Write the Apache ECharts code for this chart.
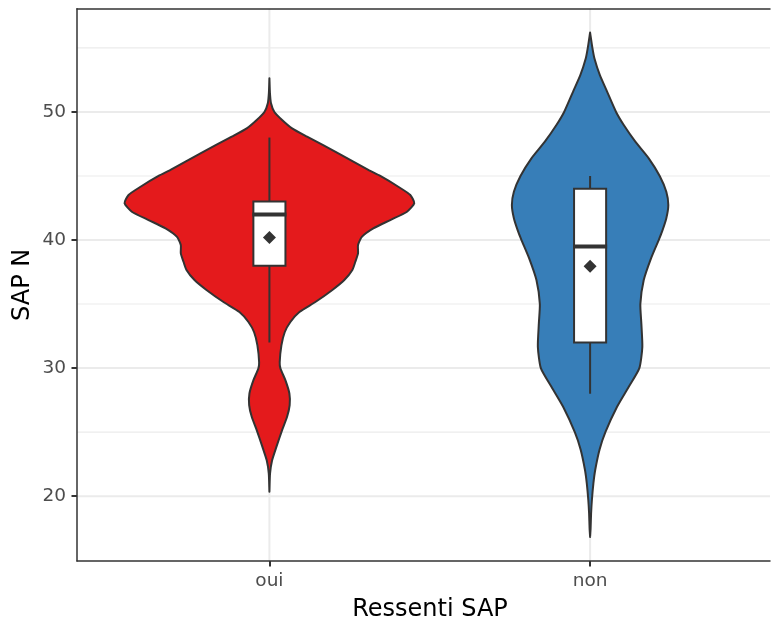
<!DOCTYPE html>
<html><head><meta charset="utf-8">
<script src="https://cdn.jsdelivr.net/npm/echarts@6/dist/echarts.min.js"></script>
<style>html,body{margin:0;padding:0;background:#fff}#c{width:771px;height:619px}</style>
</head><body><div id="c"></div>
<script>
// ---- data ----
const categories = ['oui', 'non'];
const categoryPos = [1, 2];
const violinColors = ['#E41A1C', '#377EB8'];

// violin outlines: y values and half-widths (x-axis units)
const ouiViolinY = [20.34, 21.77, 22.8, 23.85, 25.16, 26.2, 27.11, 28.02, 29.06, 29.98, 30.47, 31.77, 32.8, 33.6, 34.38, 35.16, 36.1, 36.875, 37.66, 38.3, 38.96, 39.61, 40.26, 40.91, 41.56, 42.21, 42.87, 43.52, 44.16, 45.0, 45.47, 46.77, 48.07, 48.72, 49.375, 50.0, 50.68, 51.5, 52.63];
const ouiViolinHalfWidth = [0, 0.002, 0.0084, 0.0218, 0.0396, 0.0551, 0.0632, 0.0623, 0.0498, 0.0343, 0.0321, 0.0374, 0.0477, 0.0654, 0.0935, 0.1433, 0.1963, 0.2336, 0.2586, 0.2679, 0.2763, 0.2763, 0.2888, 0.324, 0.377, 0.429, 0.4517, 0.4393, 0.4019, 0.3458, 0.3084, 0.215, 0.1174, 0.0707, 0.0396, 0.0156, 0.005, 0.0016, 0];
const nonViolinY = [16.82, 17.5, 18.65, 19.7, 21.0, 22.08, 23.65, 25.0, 26.98, 28.54, 30.0, 31.66, 33.49, 35.0, 36.875, 38.57, 40.0, 40.65, 41.7, 42.73, 43.77, 45.0, 46.38, 47.68, 48.98, 50.0, 51.59, 52.89, 54.19, 55.0, 56.2];
const nonViolinHalfWidth = [0, 0.0016, 0.0031, 0.0056, 0.0103, 0.0162, 0.0296, 0.0477, 0.0841, 0.1206, 0.1536, 0.1629, 0.1598, 0.1567, 0.1673, 0.19, 0.214, 0.2243, 0.2377, 0.2439, 0.2377, 0.2171, 0.1829, 0.1411, 0.105, 0.081, 0.053, 0.0302, 0.0134, 0.0072, 0];

// boxplot stats
const boxQ1 = [38, 32];
const boxMedian = [42, 39.5];
const boxQ3 = [43, 44];
const whiskerLow = [32, 28];
const whiskerHigh = [48, 45];
const meanValues = [40.2, 37.95];

// axes
const yTicks = [20, 30, 40, 50];
const yMinorTicks = [25, 35, 45, 55];
const yRange = [14.94, 58.06];
const xRange = [0.4, 2.561];
const boxHalfWidth = 0.05;

// ---- chart ----
const violinY = [ouiViolinY, nonViolinY];
const violinHW = [ouiViolinHalfWidth, nonViolinHalfWidth];
const FONT = 'DejaVu Sans';
const DARK = '#333333';

const gridLines = [];
yTicks.forEach(v => gridLines.push(['h', v, 2]));
yMinorTicks.forEach(v => gridLines.push(['h', v, 1.1]));
categoryPos.forEach(v => gridLines.push(['v', v, 2]));

const chart = echarts.init(document.getElementById('c'), null, {renderer: 'canvas'});
chart.setOption({
  animation: false,
  backgroundColor: '#ffffff',
  grid: {left: 77, top: 8.7, bottom: 58, right: 1, show: false, containLabel: false, outerBoundsMode: 'none'},
  xAxis: [{
    type: 'value', min: xRange[0], max: xRange[1], z: 5,
    axisLine: {show: true, lineStyle: {color: DARK, width: 1.5}},
    splitLine: {show: false},
    axisTick: {show: true, customValues: categoryPos, length: 5.5, lineStyle: {color: DARK, width: 2}},
    axisLabel: {customValues: categoryPos, margin: 11, color: '#4D4D4D', fontSize: 18.5, fontFamily: FONT,
      formatter: v => categories[categoryPos.indexOf(v)] || ''},
    name: 'Ressenti SAP', nameLocation: 'middle', nameGap: 37, nameMoveOverlap: false,
    nameTextStyle: {color: '#000', fontSize: 24, fontFamily: FONT, padding: [0, 0, 0, 13]}
  }, {
    type: 'value', position: 'top', min: xRange[0], max: xRange[1], z: 5,
    axisLine: {show: true, lineStyle: {color: DARK, width: 1.5}},
    splitLine: {show: false}, axisTick: {show: false}, axisLabel: {show: false}
  }],
  yAxis: {
    type: 'value', min: yRange[0], max: yRange[1], z: 5,
    axisLine: {show: true, lineStyle: {color: DARK, width: 1.5}},
    splitLine: {show: false},
    axisTick: {show: true, customValues: yTicks, length: 5.5, lineStyle: {color: DARK, width: 2}},
    axisLabel: {customValues: yTicks, margin: 11, color: '#4D4D4D', fontSize: 18.5, fontFamily: FONT},
    name: 'SAP N', nameLocation: 'middle', nameGap: 42, nameMoveOverlap: false,
    nameTextStyle: {color: '#000', fontSize: 24, fontFamily: FONT}
  },
  series: [
    {
      type: 'custom', silent: true, z: 1,
      data: gridLines.map((g, k) => [k, 0]),
      renderItem: (params, api) => {
        const g = gridLines[params.dataIndex];
        let a, b;
        if (g[0] === 'h') { a = api.coord([xRange[0], g[1]]); b = api.coord([xRange[1], g[1]]); }
        else { a = api.coord([g[1], yRange[0]]); b = api.coord([g[1], yRange[1]]); }
        return {type: 'line', shape: {x1: a[0], y1: a[1], x2: b[0], y2: b[1]}, style: {stroke: '#EBEBEB', lineWidth: g[2]}};
      }
    },
    {
      type: 'custom', silent: true, z: 2,
      data: categoryPos.map((c, i) => [c, 0]),
      renderItem: (params, api) => {
        const i = params.dataIndex;
        const cx = categoryPos[i], ys = violinY[i], ws = violinHW[i];
        const right = ys.map((y, k) => api.coord([cx + ws[k], y]));
        const left = ys.map((y, k) => api.coord([cx - ws[k], y])).reverse();
        return {type: 'polygon', shape: {points: right.concat(left), smooth: 0.2},
          style: {fill: violinColors[i], stroke: DARK, lineWidth: 2, lineJoin: 'round'}};
      }
    },
    {
      type: 'custom', silent: true, z: 3,
      data: categoryPos.map((c, i) => [c, boxMedian[i]]),
      renderItem: (params, api) => {
        const i = params.dataIndex, cx = categoryPos[i];
        const tl = api.coord([cx - boxHalfWidth, boxQ3[i]]);
        const br = api.coord([cx + boxHalfWidth, boxQ1[i]]);
        const wl = api.coord([cx, whiskerLow[i]]), wh = api.coord([cx, whiskerHigh[i]]);
        const q1 = api.coord([cx, boxQ1[i]]), q3 = api.coord([cx, boxQ3[i]]);
        const ml = api.coord([cx - boxHalfWidth, boxMedian[i]]), mr = api.coord([cx + boxHalfWidth, boxMedian[i]]);
        const ls = {stroke: DARK, lineWidth: 2};
        return {type: 'group', children: [
          {type: 'line', shape: {x1: wh[0], y1: wh[1], x2: q3[0], y2: q3[1]}, style: ls},
          {type: 'line', shape: {x1: wl[0], y1: wl[1], x2: q1[0], y2: q1[1]}, style: ls},
          {type: 'rect', shape: {x: tl[0], y: tl[1], width: br[0] - tl[0], height: br[1] - tl[1]}, style: {fill: '#ffffff', stroke: DARK, lineWidth: 2}},
          {type: 'line', shape: {x1: ml[0] - 1, y1: ml[1], x2: mr[0] + 1, y2: mr[1]}, style: {stroke: DARK, lineWidth: 4}}
        ]};
      }
    },
    {
      type: 'scatter', silent: true, z: 4,
      symbol: 'diamond', symbolSize: 13,
      itemStyle: {color: '#000000'},
      data: categoryPos.map((c, i) => [c, meanValues[i]])
    }
  ]
});
</script></body></html>
